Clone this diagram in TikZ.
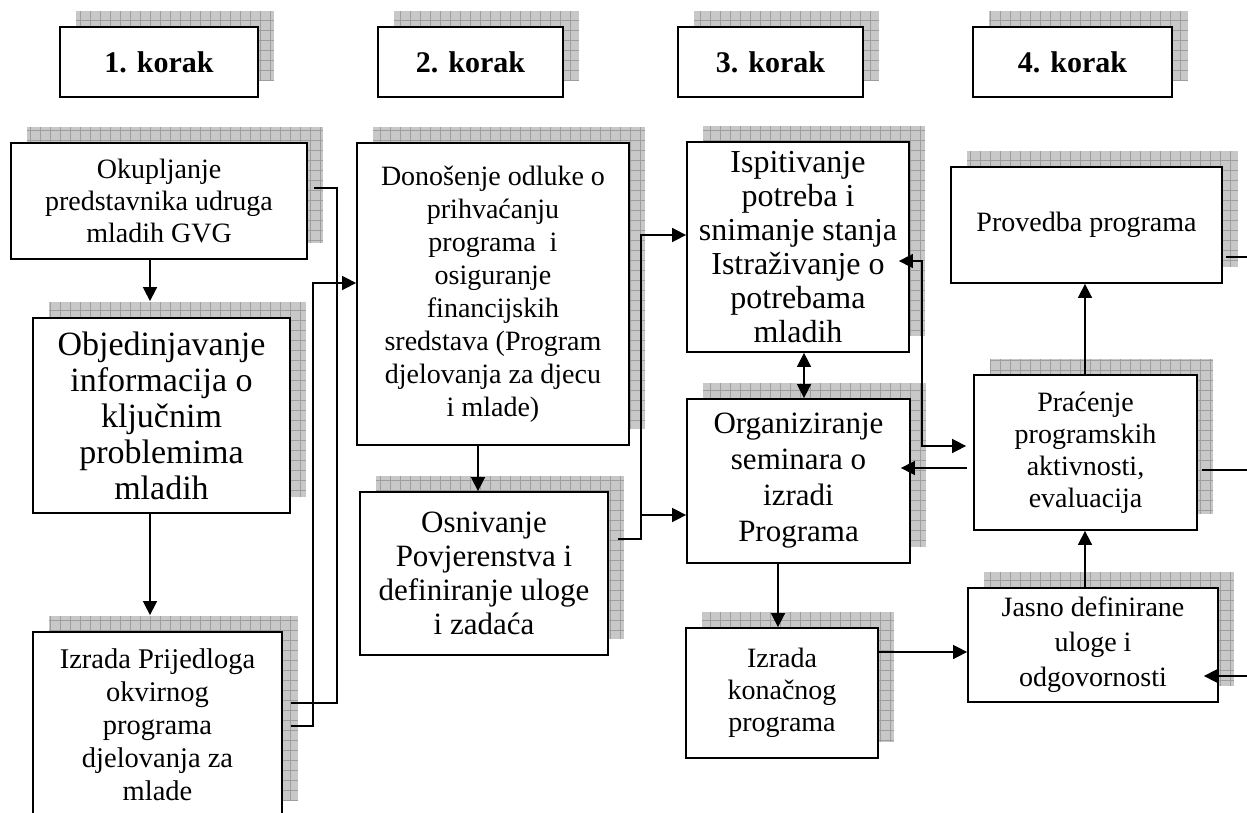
\documentclass[tikz,border=0pt]{standalone}
\usepackage{fontspec}
\setmainfont{Liberation Serif}
\usetikzlibrary{arrows.meta,calc}
\definecolor{shfill}{RGB}{200,200,200}
\definecolor{shgrid}{RGB}{158,158,158}
\tikzset{
  box/.style={draw, fill=white, line width=1.8pt, inner sep=0pt, align=center,
    font=\fontsize{28}{32}\selectfont},
  boxB/.style={box, font=\fontsize{34}{36}\selectfont},
  boxC/.style={box, font=\fontsize{28.5}{33}\selectfont},
  boxD/.style={box, font=\fontsize{28}{33}\selectfont},
  boxE/.style={box, font=\fontsize{31}{34}\selectfont},
  boxF/.style={box, font=\fontsize{32}{34}\selectfont},
  boxK/.style={box, font=\fontsize{28}{35}\selectfont},
  bigbox/.style={box, font=\fontsize{31}{36}\selectfont},
  headbox/.style={draw, fill=white, line width=2.2pt, inner sep=0pt, align=center,
    font=\fontsize{30}{34}\selectfont\bfseries},
  conn/.style={line width=1.6pt},
  arr/.style={conn, -{Triangle[length=14pt,width=14pt]}},
  arrtwo/.style={conn, {Triangle[length=14pt,width=14pt]}-{Triangle[length=14pt,width=14pt]}}
}
% shadow + box: [style]{name}{x1}{y1}{x2}{y2}{text}  (pixel coordinates, y downwards)
\newcommand{\shbox}[7][box]{%
  \begin{scope}
    \clip ({#3+16},{#6-16}) rectangle ({#5+16},{#4-16});
    \fill[shfill] ({#3+16},{#6-16}) rectangle ({#5+16},{#4-16});
    \draw[shgrid, line width=0.7pt, step=10pt] ({#3+16},{#6-16}) grid ({#5+16},{#4-16});
  \end{scope}
  \node[#1, minimum width={(#5-#3)*1pt}, minimum height={(#6-#4)*1pt}] (#2)
    at ({(#3+#5)/2},{(#4+#6)/2}) {#7};
}
\begin{document}
\begin{tikzpicture}[x=1pt, y=-1pt]
\useasboundingbox (0,0) rectangle (1247,813);
\fill[white] (0,0) rectangle (1247,813);
\clip (0,0) rectangle (1247,813);

% header boxes
\shbox[headbox]{H1}{60}{27}{258}{97}{1. korak}
\shbox[headbox]{H2}{378}{27}{563}{97}{2. korak}
\shbox[headbox]{H3}{678}{27}{863}{97}{3. korak}
\shbox[headbox]{H4}{973}{27}{1172}{97}{4. korak}

% step 1
\shbox{A}{11}{143}{307}{259}{Okupljanje\\predstavnika udruga\\mladih GVG}
\shbox[boxB]{B}{33}{318}{290}{513}{Objedinjavanje\\informacija o\\ključnim\\problemima\\mladih}
\shbox[boxC]{C}{33}{632}{282}{817}{Izrada Prijedloga\\okvirnog\\programa\\djelovanja za\\mlade}

% step 2
\shbox[boxD]{D}{357}{143}{629}{445}{Donošenje odluke o\\prihvaćanju\\programa~ i\\osiguranje\\financijskih\\sredstava (Program\\djelovanja za djecu\\i mlade)}
\shbox[boxE]{E}{360}{492}{608}{655}{Osnivanje\\Povjerenstva i\\definiranje uloge\\i zadaća}

% step 3
\shbox[boxF]{F}{687}{142}{909}{352}{Ispitivanje\\potreba i\\snimanje stanja\\Istraživanje o\\potrebama\\mladih}
\shbox[bigbox]{G}{687}{399}{910}{563}{Organiziranje\\seminara o\\izradi\\Programa}
\shbox{H}{686}{628}{878}{758}{Izrada\\konačnog\\programa}

% step 4
\shbox{I}{951}{167}{1222}{283}{Provedba programa}
\shbox{J}{974}{375}{1197}{530}{Praćenje\\programskih\\aktivnosti,\\evaluacija}
\shbox[boxK]{K}{968}{588}{1218}{702}{Jasno definirane\\uloge i\\odgovornosti}

% helper coordinates
\coordinate (xL) at (150,0);
\coordinate (a2) at (337,188);
\coordinate (a4y) at (0,703);
\coordinate (b2) at (313,726);
\coordinate (b3y) at (0,283);
\coordinate (xDE) at (478,0);
\coordinate (e2) at (641,539);
\coordinate (yF) at (0,235);
\coordinate (yG) at (0,515);
\coordinate (xFG) at (804,0);
\coordinate (f2) at (922,261);
\coordinate (yJa) at (0,446);
\coordinate (yJG) at (0,468);
\coordinate (xGH) at (778,0);
\coordinate (yHK) at (0,652);
\coordinate (xJ) at (1085,0);
\coordinate (rI) at (1247,257);
\coordinate (rJ) at (1247,470);
\coordinate (rK) at (1247,676);

% connectors
\draw[arr, shorten >=16pt] (A.south -| xL) -- (B.north -| xL);
\draw[arr, shorten >=16pt] (B.south -| xL) -- (C.north -| xL);
\draw[conn, shorten <=6pt, shorten >=8pt] (A.east |- a2) -- (a2) -- (a2 |- a4y) -- (C.east |- a4y);
\draw[arr, shorten <=8pt] (C.east |- b2) -- (b2) -- (b2 |- b3y) -- (D.west |- b3y);
\draw[arr] (D.south -| xDE) -- (E.north -| xDE);
\draw[arr, shorten <=9pt] (E.east |- e2) -- (e2) -- (e2 |- yF) -- (F.west |- yF);
\draw[arr] (e2 |- yG) -- (G.west |- yG);
\draw[arrtwo] (F.south -| xFG) -- (G.north -| xFG);
\draw[arrtwo, shorten <=-11pt, shorten >=7pt] (F.east |- f2) -- (f2) -- (f2 |- yJa) -- (J.west |- yJa);
\draw[arr, shorten <=6pt, shorten >=-10pt] (J.west |- yJG) -- (G.east |- yJG);
\draw[arr] (G.south -| xGH) -- (H.north -| xGH);
\draw[arr] (H.east |- yHK) -- (K.west |- yHK);
\draw[arr] (J.north -| xJ) -- (I.south -| xJ);
\draw[arr] (K.north -| xJ) -- (J.south -| xJ);
\draw[conn, shorten <=3pt] (I.east |- rI) -- (rI);
\draw[conn, shorten <=4pt] (J.east |- rJ) -- (rJ);
\draw[arr, shorten >=-15pt] (rK) -- (K.east |- rK);
\end{tikzpicture}
\end{document}
